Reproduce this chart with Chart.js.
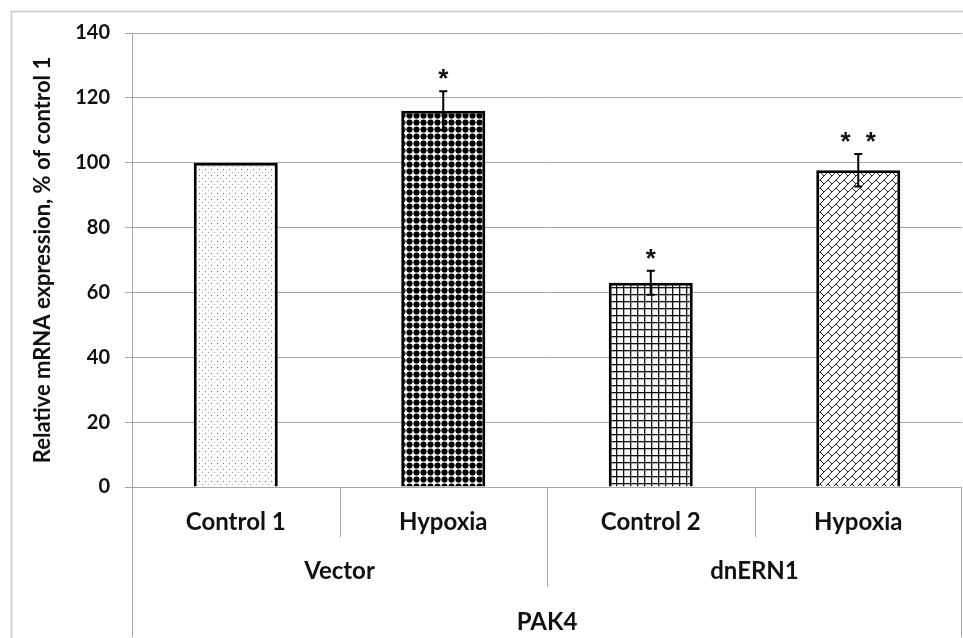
<!DOCTYPE html>
<html>
<head>
<meta charset="utf-8">
<script src="https://cdn.jsdelivr.net/npm/chart.js@4.4.1/dist/chart.umd.min.js"></script>
<style>
  html, body { margin: 0; padding: 0; background: #fff; }
  #wrap { width: 963px; height: 638px; }
</style>
</head>
<body>
<div id="wrap"><canvas id="pak4_chart" width="963" height="638"></canvas></div>
<script>
// 데이터
var categories = ['Control 1', 'Hypoxia', 'Control 2', 'Hypoxia'];
var groups = ['Vector', 'dnERN1'];
var groupSpan = [2, 2];
var topLabel = 'PAK4';
var values = [100, 116, 63, 97.7];
var errors = [0, 6, 3.7, 5];
var stars = ['', '*', '*', '* *'];
var yTicks = [0, 20, 40, 60, 80, 100, 120, 140];

var FONT = 'Lato';
var GRID = '#a6a6a6';

// 막대 패턴 만들기
function makePattern(kind) {
	var c = document.createElement('canvas');
	var ctx = c.getContext('2d');
	if (kind === 'dots') {
		c.width = 6; c.height = 6;
		ctx.fillStyle = '#fbfbfb';
		ctx.fillRect(0, 0, 6, 6);
		ctx.fillStyle = '#6a6a6a';
		ctx.fillRect(1, 1, 1, 1);
		ctx.fillStyle = '#aaaaaa';
		ctx.fillRect(4, 4, 1, 1);
	} else if (kind === 'bigdots') {
		c.width = 7; c.height = 7;
		ctx.fillStyle = '#ffffff';
		ctx.fillRect(0, 0, 7, 7);
		ctx.fillStyle = '#000000';
		ctx.beginPath();
		ctx.arc(3.5, 3.5, 3.1, 0, Math.PI * 2);
		ctx.fill();
	} else if (kind === 'grid') {
		c.width = 7; c.height = 7;
		ctx.fillStyle = '#fafafa';
		ctx.fillRect(0, 0, 7, 7);
		ctx.fillStyle = '#111111';
		ctx.fillRect(0, 0, 7, 1.3);
		ctx.fillRect(0, 0, 1.3, 7);
	} else if (kind === 'brick') {
		c.width = 8; c.height = 8;
		ctx.fillStyle = '#ffffff';
		ctx.fillRect(0, 0, 8, 8);
		ctx.strokeStyle = '#222222';
		ctx.lineWidth = 1;
		ctx.beginPath();
		ctx.moveTo(0, 8); ctx.lineTo(8, 0);
		ctx.moveTo(4, 4); ctx.lineTo(8, 8);
		ctx.stroke();
	}
	return document.createElement('canvas').getContext('2d').createPattern(c, 'repeat');
}

var fills = [makePattern('dots'), makePattern('bigdots'), makePattern('grid'), makePattern('brick')];

// 바깥 테두리
var frameBorder = {
	id: 'frameBorder',
	beforeDraw(chart) {
		var ctx = chart.ctx;
		ctx.save();
		ctx.strokeStyle = '#c8c8c8';
		ctx.lineWidth = 1.5;
		ctx.strokeRect(11.5, 11.5, 1000, 700);
		ctx.restore();
	}
};

// 오차막대와 별표
var errorBars = {
	id: 'errorBars',
	afterDatasetsDraw(chart) {
		var ctx = chart.ctx;
		var x = chart.scales.x, y = chart.scales.y;
		ctx.save();
		values.forEach(function (v, i) {
			var px = x.getPixelForValue(i);
			var top = y.getPixelForValue(v + errors[i]);
			if (errors[i] > 0) {
				var bot = y.getPixelForValue(v - errors[i]);
				ctx.strokeStyle = '#000';
				ctx.lineWidth = 2;
				ctx.beginPath();
				ctx.moveTo(px, top); ctx.lineTo(px, bot);
				ctx.moveTo(px - 4, top); ctx.lineTo(px + 4, top);
				ctx.moveTo(px - 4, bot); ctx.lineTo(px + 4, bot);
				ctx.stroke();
			}
			if (stars[i]) {
				ctx.fillStyle = '#111';
				ctx.font = 'bold 26px "Liberation Sans"';
				ctx.letterSpacing = '4px';
				ctx.textAlign = 'center';
				ctx.textBaseline = 'alphabetic';
				var m = ctx.measureText('*');
				var mid = (m.actualBoundingBoxAscent - m.actualBoundingBoxDescent) / 2;
				ctx.fillText(stars[i], px + 2, top - 17 + mid);
			}
		});
		ctx.restore();
	}
};

// 여러 단계 카테고리 축
var multiLevelAxis = {
	id: 'multiLevelAxis',
	afterDraw(chart) {
		var ctx = chart.ctx;
		var x = chart.scales.x;
		var area = chart.chartArea;
		var band = 50;
		var n = categories.length;
		var half = (x.getPixelForValue(1) - x.getPixelForValue(0)) / 2;
		var edge = function (i) { return x.getPixelForValue(i) - half; };
		ctx.save();
		ctx.strokeStyle = GRID;
		ctx.lineWidth = 1;
		ctx.beginPath();
		ctx.moveTo(area.left + 0.5, area.bottom); ctx.lineTo(area.left + 0.5, area.bottom + band * 3);
		ctx.moveTo(area.right - 0.5, area.bottom); ctx.lineTo(area.right - 0.5, area.bottom + band * 3);
		var start = 0;
		groupSpan.forEach(function (span, g) {
			for (var k = 1; k < span; k++) {
				var bx = Math.round(edge(start + k)) + 0.5;
				ctx.moveTo(bx, area.bottom); ctx.lineTo(bx, area.bottom + band);
			}
			if (g > 0) {
				var gx = Math.round(edge(start)) + 0.5;
				ctx.moveTo(gx, area.bottom); ctx.lineTo(gx, area.bottom + band * 2);
			}
			start += span;
		});
		ctx.stroke();

		ctx.fillStyle = '#111';
		ctx.font = 'bold 24px ' + FONT;
		ctx.textAlign = 'center';
		ctx.textBaseline = 'middle';
		categories.forEach(function (c, i) {
			ctx.fillText(c, x.getPixelForValue(i), area.bottom + band * 0.7);
		});
		start = 0;
		groupSpan.forEach(function (span, g) {
			var cx = (edge(start) + edge(start + span)) / 2;
			ctx.fillText(groups[g], cx, area.bottom + band * 1.68);
			start += span;
		});
		ctx.fillText(topLabel, (edge(0) + edge(n)) / 2, area.bottom + band * 2.7);
		ctx.restore();
	}
};

var myChart = new Chart(document.getElementById('pak4_chart'), {
	type: 'bar',
	data: {
		labels: categories,
		datasets: [{
			data: values,
			backgroundColor: fills,
			borderColor: '#000000',
			borderWidth: 3,
			barPercentage: 0.405,
			categoryPercentage: 1.0
		}]
	},
	options: {
		responsive: false,
		animation: false,
		events: [],
		plugins: {
			legend: { display: false },
			tooltip: { enabled: false }
		},
		layout: {
			padding: { top: 33, bottom: 151, left: 0, right: 1 }
		},
		scales: {
			x: {
				display: false
			},
			y: {
				min: 0,
				max: 140,
				afterBuildTicks(scale) {
					scale.ticks = yTicks.map(v => ({ value: v }));
				},
				afterFit(scale) {
					scale.width = 132;
				},
				grid: {
					color: GRID,
					lineWidth: 1,
					tickLength: 7,
					drawTicks: true
				},
				border: { color: GRID },
				ticks: {
					padding: 15,
					color: '#111111',
					font: { family: FONT, size: 20, weight: 'bold' }
				},
				title: {
					display: true,
					text: 'Relative mRNA expression, % of control 1',
					color: '#111111',
					padding: { top: 30, bottom: 0 },
					font: { family: FONT, size: 22, weight: 'bold' }
				}
			}
		}
	},
	plugins: [frameBorder, errorBars, multiLevelAxis]
});
</script>
</body>
</html>
